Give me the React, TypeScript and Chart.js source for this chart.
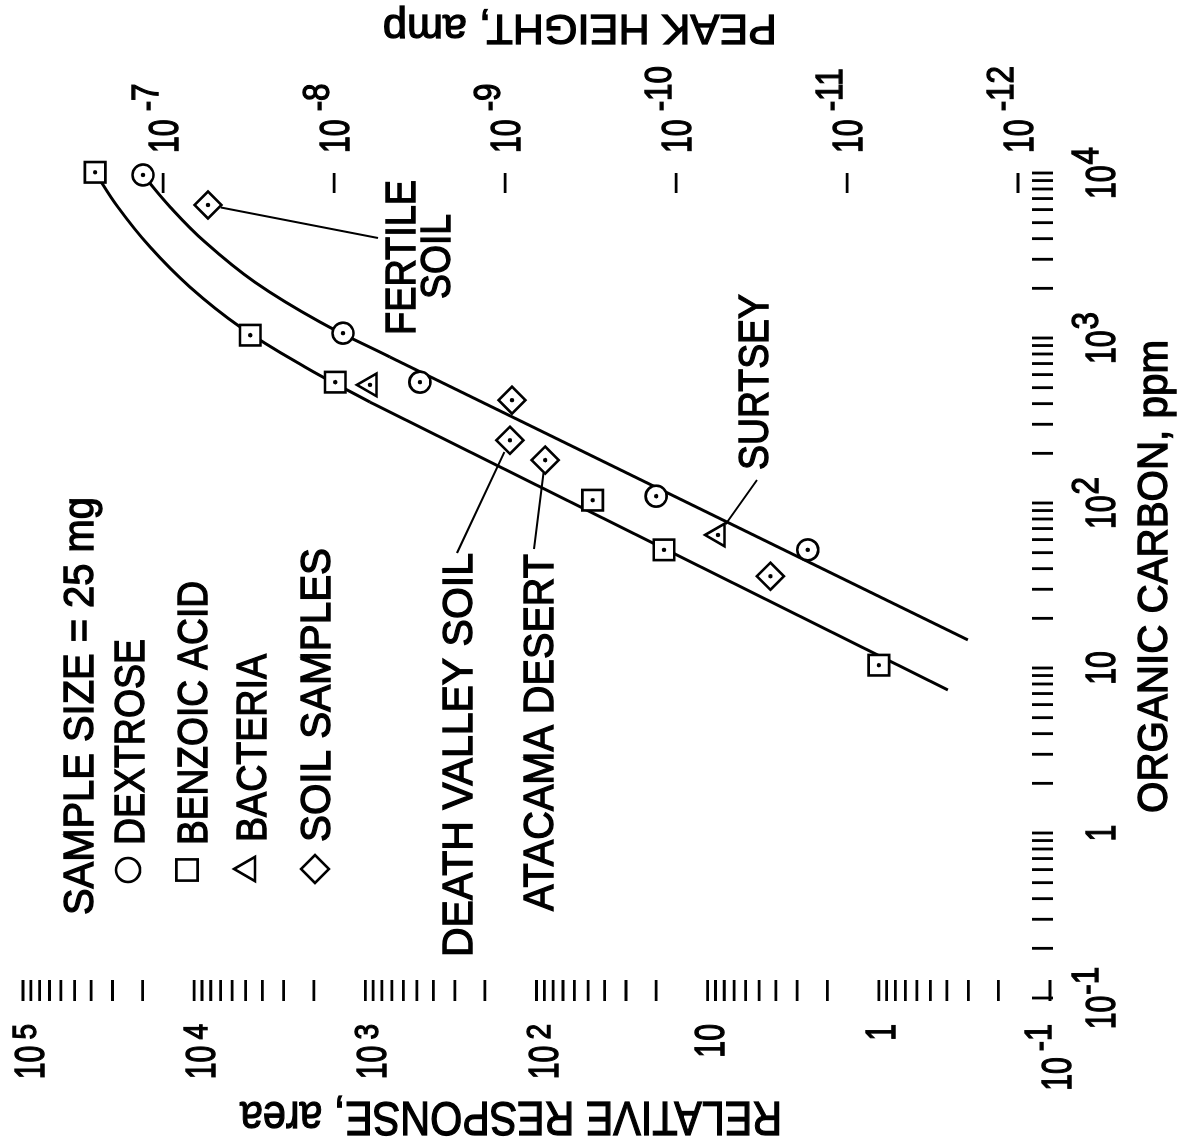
import React, { useEffect, useRef } from 'react';
import { Chart, registerables } from 'chart.js';
import { drawPoint } from 'chart.js/helpers';

Chart.register(...registerables);

// Canvas is drawn in the chart's own orientation and the whole figure is turned 90° anticlockwise.
const W = 1142;
const H = 1177;

// ---- Data (organic carbon in ppm, relative response in area units) ----
const dextroseCarbon = [9730, 1070, 540, 110, 52];
const dextroseResponse = [19900, 1350, 480, 20, 2.6];
const benzoicCarbon = [10100, 1040, 540, 104, 52, 10.4];
const benzoicResponse = [37900, 4700, 1500, 47, 18, 1.0];
const bacteriaCarbon = [520, 64];
const bacteriaResponse = [940, 8.7];
const soilCarbon = [6400, 420, 240, 182, 36];
const soilResponse = [8300, 139, 143, 89, 4.3];

// fitted curves (curved upper part + straight lower part)
const dextroseCurveCarbon = [9730, 6220, 3820, 2180, 1250, 767];
const dextroseCurveResponse = [19900, 13800, 8650, 4420, 1840, 718];
const dextroseLineCarbon = [767, 14.8];
const dextroseLineResponse = [718, 0.302];
const benzoicCurveCarbon = [10100, 6220, 3560, 2040, 1170, 667, 409];
const benzoicCurveResponse = [37900, 27900, 18100, 10600, 5400, 2250, 940];
const benzoicLineCarbon = [409, 7.36];
const benzoicLineResponse = [940, 0.395];

// ---- Axes ----
const carbonMin = 0.1;
const carbonMax = 1e4;
const responseMin = 0.1;
const responseMax = 1e5;
const peakMin = Math.pow(10, -12.187);
const peakMax = Math.pow(10, -6.181);

const carbonMajor = [0.1, 1, 10, 100, 1000, 10000];
const carbonLabels: [string, string][] = [['10', '-1'], ['1', ''], ['10', ''], ['10', '2'], ['10', '3'], ['10', '4']];
const responseMajor = [0.1, 1, 10, 100, 1000, 10000, 100000];
const responseLabels: [string, string][] = [['10', '-1'], ['1', ''], ['10', ''], ['10', '2'], ['10', '3'], ['10', '4'], ['10', '5']];
const peakMajor = [1e-12, 1e-11, 1e-10, 1e-9, 1e-8, 1e-7];
const peakLabels: [string, string][] = [['10', '-12'], ['10', '-11'], ['10', '-10'], ['10', '-9'], ['10', '-8'], ['10', '-7']];

const carbonTitle = 'ORGANIC CARBON, ppm';
const responseTitle = 'RELATIVE RESPONSE, area';
const peakTitle = 'PEAK HEIGHT, amp';

const legendItems = ['DEXTROSE', 'BENZOIC ACID', 'BACTERIA', 'SOIL SAMPLES'];
const legendStyles = ['circle', 'rect', 'triangle', 'rectRot'];

function minorTicks(major: number[]): number[] {
  const out: number[] = [];
  for (let i = 0; i < major.length - 1; i++) {
    for (let m = 1; m <= 9; m++) out.push(major[i] * m);
  }
  out.push(major[major.length - 1]);
  return out;
}

const FONT = '"Liberation Sans", Arial, Helvetica, sans-serif';
const TEXT_STROKE = 1.3;

function drawScaled(ctx: CanvasRenderingContext2D, text: string, x: number, y: number, size: number, sx: number) {
  ctx.save();
  ctx.font = `${size}px ${FONT}`;
  ctx.translate(x, y);
  ctx.scale(sx, 1);
  ctx.textAlign = 'left';
  ctx.textBaseline = 'alphabetic';
  ctx.fillText(text, 0, 0);
  ctx.lineWidth = TEXT_STROKE;
  ctx.strokeText(text, 0, 0);
  ctx.restore();
}

function drawFit(ctx: CanvasRenderingContext2D, text: string, x: number, y: number, size: number, width: number, align: 'left' | 'center' = 'left', rot = 0) {
  ctx.save();
  ctx.font = `${size}px ${FONT}`;
  const m = ctx.measureText(text).width;
  const sx = width / m;
  ctx.translate(x, y);
  if (rot) ctx.rotate(rot);
  ctx.scale(sx, 1);
  ctx.textBaseline = 'alphabetic';
  ctx.textAlign = 'left';
  const ox = align === 'center' ? -m / 2 : 0;
  ctx.fillText(text, ox, 0);
  ctx.lineWidth = TEXT_STROKE;
  ctx.strokeText(text, ox, 0);
  ctx.restore();
}

type PowCfg = { size: number; sx: number; supSize: number; supSx: number; raise: number; gap: number };

function drawPow(ctx: CanvasRenderingContext2D, base: string, exp: string, x: number, y: number, align: string, c: PowCfg) {
  ctx.font = `${c.size}px ${FONT}`;
  const bw = ctx.measureText(base).width * c.sx;
  let ew = 0;
  if (exp) {
    ctx.font = `${c.supSize}px ${FONT}`;
    ew = ctx.measureText(exp).width * c.supSx;
  }
  const total = bw + (exp ? c.gap + ew : 0);
  const left = align === 'center' ? x - total / 2 : align === 'right' ? x - total : x;
  drawScaled(ctx, base, left, y, c.size, c.sx);
  if (exp) drawScaled(ctx, exp, left + bw + c.gap, y - c.raise, c.supSize, c.supSx);
}

const annotationTexts = [
  { t: 'SAMPLE SIZE = 25 mg', x: 227, y: 93, w: 418 },
  { t: legendItems[0], x: 297, y: 144, w: 206 },
  { t: legendItems[1], x: 297, y: 207, w: 264 },
  { t: legendItems[2], x: 300, y: 266, w: 188 },
  { t: legendItems[3], x: 300, y: 330, w: 294 },
  { t: 'DEATH VALLEY SOIL', x: 185, y: 472, w: 404 },
  { t: 'ATACAMA DESERT', x: 231, y: 553, w: 357 },
  { t: 'FERTILE', x: 807, y: 415, w: 155 },
  { t: 'SOIL', x: 843, y: 450, w: 85 },
  { t: 'SURTSEY', x: 672, y: 768, w: 176 },
];

const legendSymbols = [
  { x: 272, y: 128, r: 12 },
  { x: 272, y: 187, r: 15 },
  { x: 273, y: 248, r: 14 },
  { x: 273, y: 315, r: 14 },
];

// leader lines: dataset / index of the point, and the label end of the line
const leaders = [
  { ds: 'soil', i: 0, ex: 904, ey: 378 },
  { ds: 'bact', i: 1, ex: 662, ey: 757 },
  { ds: 'soil', i: 2, ex: 589, ey: 457 },
  { ds: 'soil', i: 3, ex: 593, ey: 534 },
];

const figurePlugin = {
  id: 'figure',
  afterDraw(chart: any) {
    const ctx: CanvasRenderingContext2D = chart.ctx;
    const xs = chart.scales.x;
    const ys = chart.scales.y;
    const y2 = chart.scales.y2;
    const ca = chart.chartArea;
    ctx.save();
    ctx.strokeStyle = '#000';
    ctx.fillStyle = '#000';
    ctx.lineCap = 'butt';

    // tick marks
    ctx.lineWidth = 2.8;
    ctx.beginPath();
    for (const v of minorTicks(carbonMajor)) {
      const px = xs.getPixelForValue(v);
      ctx.moveTo(px, ca.bottom - 18);
      ctx.lineTo(px, ca.bottom + 3);
    }
    for (const v of minorTicks(responseMajor)) {
      const py = ys.getPixelForValue(v);
      ctx.moveTo(ca.left - 3, py);
      ctx.lineTo(ca.left + 18, py);
    }
    for (const v of peakMajor) {
      const py = y2.getPixelForValue(v);
      ctx.moveTo(ca.right - 20, py);
      ctx.lineTo(ca.right, py);
    }
    ctx.stroke();

    // tick labels
    const xCfg: PowCfg = { size: 42, sx: 0.72, supSize: 37, supSx: 0.85, raise: 17, gap: 1 };
    carbonMajor.forEach((v, i) => {
      const [b, e] = carbonLabels[i];
      drawPow(ctx, b, e, xs.getPixelForValue(v), ca.bottom + 65, 'center', xCfg);
    });
    responseMajor.forEach((v, i) => {
      const [b, e] = responseLabels[i];
      const neg = e.startsWith('-');
      const cfg: PowCfg = { size: 42, sx: 0.72, supSize: neg ? 36 : 33, supSx: 0.85, raise: neg ? 20 : 8, gap: 6 };
      const off = e ? 21 : 16;
      drawPow(ctx, b, e, ca.left - 26, ys.getPixelForValue(v) + off, 'right', cfg);
    });
    const pCfg: PowCfg = { size: 42, sx: 0.72, supSize: 37, supSx: 0.85, raise: 20, gap: 8 };
    peakMajor.forEach((v, i) => {
      const [b, e] = peakLabels[i];
      drawPow(ctx, b, e, ca.right + 20, y2.getPixelForValue(v) + 15, 'left', pCfg);
    });

    // axis titles
    drawFit(ctx, carbonTitle, 329, ca.bottom + 117, 42, 473);
    drawFit(ctx, responseTitle, 40, 511, 48, 542, 'center', -Math.PI / 2);
    drawFit(ctx, peakTitle, 1127, 580, 42, 394, 'center', -Math.PI / 2);

    // texts
    for (const a of annotationTexts) drawFit(ctx, a.t, a.x, a.y, 42, a.w);

    // legend symbols
    legendSymbols.forEach((s, i) => {
      ctx.save();
      ctx.fillStyle = '#fff';
      ctx.strokeStyle = '#000';
      ctx.lineWidth = 2.6;
      drawPoint(ctx, { pointStyle: legendStyles[i], radius: s.r, borderWidth: 2.6, rotation: 0 } as any, s.x, s.y);
      ctx.restore();
    });

    // leader lines
    ctx.lineWidth = 2;
    ctx.beginPath();
    for (const l of leaders) {
      const cx = l.ds === 'soil' ? soilCarbon[l.i] : bacteriaCarbon[l.i];
      const cy = l.ds === 'soil' ? soilResponse[l.i] : bacteriaResponse[l.i];
      const px = xs.getPixelForValue(cx);
      const py = ys.getPixelForValue(cy);
      const dx = l.ex - px;
      const dy = l.ey - py;
      const d = Math.hypot(dx, dy);
      ctx.moveTo(px + (dx / d) * 13, py + (dy / d) * 13);
      ctx.lineTo(l.ex, l.ey);
    }
    ctx.stroke();
    ctx.restore();
  },
};

function pts(xs: number[], ys: number[]) {
  return xs.map((x, i) => ({ x, y: ys[i] }));
}

function markerSet(data: { x: number; y: number }[], style: string, r: number) {
  return {
    data,
    pointStyle: style,
    pointRadius: r,
    pointBorderWidth: 2.6,
    pointBorderColor: '#000',
    pointBackgroundColor: '#fff',
    showLine: false,
    clip: false as any,
    order: 2,
  };
}

function lineSet(data: { x: number; y: number }[], tension: number) {
  return {
    data,
    showLine: true,
    borderColor: '#000',
    borderWidth: 3,
    pointRadius: 0,
    tension,
    clip: false as any,
    order: 3,
  };
}

export default function App() {
  const ref = useRef<HTMLCanvasElement>(null);

  useEffect(() => {
    const allDots = [
      ...pts(dextroseCarbon, dextroseResponse),
      ...pts(benzoicCarbon, benzoicResponse),
      ...pts(bacteriaCarbon, bacteriaResponse),
      ...pts(soilCarbon, soilResponse),
    ];
    const chart = new Chart(ref.current as HTMLCanvasElement, {
      type: 'scatter',
      data: {
        datasets: [
          lineSet(pts(dextroseCurveCarbon, dextroseCurveResponse), 0.4),
          lineSet(pts(dextroseLineCarbon, dextroseLineResponse), 0),
          lineSet(pts(benzoicCurveCarbon, benzoicCurveResponse), 0.4),
          lineSet(pts(benzoicLineCarbon, benzoicLineResponse), 0),
          markerSet(pts(dextroseCarbon, dextroseResponse), 'circle', 10.5),
          markerSet(pts(benzoicCarbon, benzoicResponse), 'rect', 14.5),
          markerSet(pts(bacteriaCarbon, bacteriaResponse), 'triangle', 13),
          markerSet(pts(soilCarbon, soilResponse), 'rectRot', 13.5),
          {
            data: allDots,
            pointStyle: 'circle',
            pointRadius: 2.2,
            pointBorderWidth: 0,
            pointBackgroundColor: '#000',
            showLine: false,
            clip: false as any,
            order: 1,
          },
        ] as any,
      },
      options: {
        responsive: false,
        animation: false,
        events: [],
        layout: { padding: { left: 144, right: 173, top: 23, bottom: 127 } },
        plugins: { legend: { display: false }, tooltip: { enabled: false } },
        scales: {
          x: { type: 'logarithmic', min: carbonMin, max: carbonMax, display: false },
          y: { type: 'logarithmic', min: responseMin, max: responseMax, display: false },
          y2: { type: 'logarithmic', position: 'right', min: peakMin, max: peakMax, display: false },
        },
      } as any,
      plugins: [figurePlugin],
    });
    return () => chart.destroy();
  }, []);

  return (
    <div style={{ position: 'fixed', left: 0, top: 0, width: '100vw', height: '100vh', overflow: 'hidden', background: '#fff' }}>
      <div
        style={{
          position: 'absolute',
          left: 0,
          top: 0,
          width: W,
          height: H,
          transformOrigin: '0 0',
          transform: `translateY(${W}px) rotate(-90deg)`,
        }}
      >
        <canvas ref={ref} width={W} height={H} style={{ width: W, height: H, display: 'block' }} />
      </div>
    </div>
  );
}
